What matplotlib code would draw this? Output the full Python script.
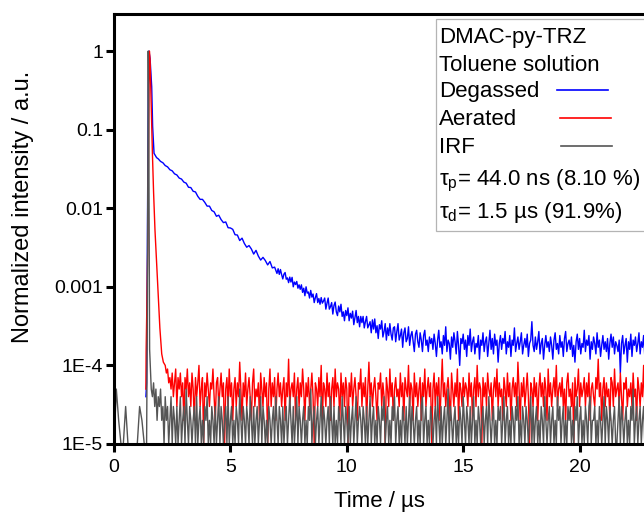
import numpy as np
import matplotlib
matplotlib.use('Agg')
import matplotlib.pyplot as plt
from matplotlib.patches import Rectangle
from matplotlib.ticker import FixedLocator, FixedFormatter, NullLocator

plt.rcParams['font.family'] = ['Liberation Sans', 'DejaVu Sans']
plt.rcParams['mathtext.default'] = 'regular'

# ---------------- data (normalized intensity, in units of 1e-5) ----------------
UNIT = 1e-5

# IRF (grey)
irf_pre_start, irf_pre_step = 0.0, 0.1
irf_pre = [1, 5, 2, 1, 1, 3, 1, 1, 1, 1, 1, 3, 2, 1, 1]
irf_peak_t = [1.43, 1.45, 1.47, 1.49, 1.51, 1.53]
irf_peak = [30, 3000, 100000, 20000, 500, 16]
irf_tail_start, irf_tail_step = 1.6, 0.05
irf_tail = [5,4,6,3,5,2,4,3,5,2,3,1,4,2,3,1,2,4,1,3,
            2,1,3,1,2,4,1,2,3,1,5,2,1,3,2,1,2,3,1,4,
            1,2,3,1,2,1,3,2,4,1,2,1,3,2,1,3,1,2,4,1,
            3,2,1,2,3,1,4,1,2,3,1,2,1,3,2,1,5,2,1,3,
            2,1,3,2,1,4,2,1,3,1,2,3,1,2,4,1,3,2,1,2,
            1,3,2,1,2,3,1,4,2,1,3,2,1,3,1,2,3,1,2,4,
            2,1,3,1,2,4,1,3,2,1,2,3,1,2,1,3,2,5,1,2,
            3,1,2,3,1,2,4,1,3,2,1,2,3,1,4,2,1,3,1,2,
            1,3,2,1,4,2,1,3,2,1,3,1,2,3,1,2,4,1,2,3,
            2,1,3,2,1,3,1,2,4,1,2,3,1,2,1,3,2,1,3,2,
            4,1,2,3,1,2,1,3,2,4,1,2,3,1,2,1,3,2,1,3,
            1,2,4,1,3,2,1,2,3,1,2,1,3,4,1,2,3,1,2,1,
            3,2,1,2,3,1,4,2,1,3,1,2,3,1,2,5,1,3,2,1,
            2,3,1,2,1,3,2,1,4,2,1,3,2,1,3,1,2,4,1,2,
            1,3,2,1,2,3,1,2,3,1,4,2,1,2,3,1,2,1,3,2,
            3,1,2,4,1,2,3,1,2,1,3,2,1,3,2,4,1,2,1,3,
            2,1,3,2,1,2,4,1,3,1,2,3,1,2,1,3,2,1,4,2,
            1,2,3,1,2,3,1,2,1,4,2,3,1,2,3,1,2,1,3,2,
            3,1,2,1,3,2,4,1,2,3,1,2,1,3,2,1,3,4,1,2,
            2,3,1,2,1,3,2,1,2,4,1,3,2,1,3,2,1,2,3,1,
            1,2,4,1,3,2,1,2,3,1,2,1,3,2,5,1,2,3,1,2,
            3,1,2,3,1,2,1,4,2,1,3,2,1,2,3,1,2,1,3,2,
            2,1,3,2,1,4,1,2,3,1,2,3,1,2,1,3,2,4,1,3,
            1,3,2,1,2,3,1,2,1,3,4,1,2,3,1,2,1,3,2,1]

# Aerated (red)
aer_early_t = [1.37, 1.38, 1.45, 1.52, 1.55, 1.60, 1.65, 1.70, 1.76, 1.83, 1.90, 1.97, 2.05, 2.12]
aer_early = [5, 15, 300, 100000, 77000, 20000, 5000, 1600, 530, 200, 74, 30, 14, 11]
aer_tail_start, aer_tail_step = 2.2, 0.05
aer_tail = [10,8,9,6,7,5,8,4,6,9,3,7,5,8,4,6,2,7,5,9,
            4,6,3,8,5,2,7,4,6,10,3,5,7,1,6,4,8,5,3,6,
            5,9,4,2,6,7,3,5,8,4,6,1,5,7,3,9,4,6,2,5,
            7,3,6,4,11,5,2,6,4,8,3,5,7,4,2,6,9,3,5,4,
            6,2,8,5,3,7,4,6,1,5,9,3,6,4,7,2,5,8,4,6,
            3,5,7,2,6,4,12,3,5,6,4,8,2,5,7,3,6,4,9,5,
            2,6,4,7,3,5,8,4,1,6,5,3,7,4,10,2,6,5,3,8,
            4,6,2,5,7,3,9,4,6,5,2,8,4,6,3,7,5,1,6,4,
            8,3,5,7,4,2,6,5,9,3,6,4,7,2,5,11,4,6,3,5,
            7,4,2,6,5,8,3,6,4,1,7,5,3,9,4,6,2,5,7,4,
            5,3,8,4,6,2,7,5,4,10,3,6,5,2,8,4,6,3,5,7,
            2,6,4,9,3,5,7,4,6,1,5,8,3,6,4,7,2,5,12,4,
            6,3,5,7,4,2,8,5,3,6,4,9,2,6,5,3,7,4,6,5,
            3,8,4,6,2,5,7,3,10,4,6,5,1,7,4,6,3,8,5,4,
            6,2,5,7,4,9,3,6,4,5,2,7,5,3,8,4,6,2,5,7,
            4,6,3,11,5,2,6,4,7,3,5,8,4,1,6,5,3,7,4,6,
            2,5,8,4,6,3,7,5,2,9,4,6,3,5,7,4,10,3,5,6,
            4,7,3,5,2,6,8,4,5,3,6,1,7,4,5,9,3,6,4,5,
            7,3,6,4,8,2,5,6,4,3,7,5,12,4,6,2,5,7,3,6,
            4,5,2,7,6,3,9,4,5,6,3,8,4,2,6,5,7,3,5,4,
            6,3,8,4,5,2,7,5,3,6,4,10,3,5,6,4,1,7,5,4,
            3,6,4,7,2,5,8,4,6,3,5,7,4,9,3,6,5,2,6,4,
            5,7,3,6,4,8,2,5,6,4,3,7,5,4,6,3,5,8,4,6]

# Degassed (blue)
deg_early_t = [1.37, 1.40, 1.44, 1.47, 1.50, 1.55, 1.62, 1.66, 1.72, 1.83]
deg_early = [4, 6, 800, 30000, 100000, 80000, 35000, 11000, 5000, 4400]
deg_mid_start, deg_mid_step = 1.9, 0.1
deg_mid = [4250, 3940, 3790, 3490, 3360, 3090, 2990, 2740, 2650, 2420, 2350, 2150,
           2083, 1848, 1831, 1643, 1611, 1416, 1295, 1297, 1187, 1063,
           1064, 936, 900, 790, 815, 717, 656, 669, 565, 561,
           539, 460, 456, 388, 416, 356, 319, 335, 303, 261,
           291, 246, 219, 237, 216, 190, 210, 174, 178, 148]
deg_tail_start, deg_tail_step = 7.05, 0.05
deg_tail = [170,144,166,143,126,145,152,125,130,113,133,115,132,100,115,107,117,96,106,93,
            106,85,96,77,100,83,86,72,90,74,81,63,73,82,63,71,60,73,62,66,
            72,52,62,72,52,56,63,45,58,64,48,43,57,48,60,42,48,37,50,43,
            54,37,46,40,49,33,41,50,35,42,31,42,35,42,30,36,42,30,33,36,
            26,38,29,39,26,32,22,33,29,37,23,27,34,21,30,24,34,25,21,30,
            31,20,27,34,21,24,29,17,26,30,20,22,31,18,24,27,20,15,25,28,
            20,17,26,21,15,24,28,18,21,15,23,19,
            22,16,25,19,13,21,28,17,20,14,24,18,31,15,21,19,12,23,17,26,
            20,14,27,18,10,22,19,25,16,21,13,24,18,29,15,20,23,14,19,17,
            24,12,21,18,26,15,20,23,13,19,28,16,22,14,25,18,21,11,19,24,
            16,22,19,27,14,20,17,24,13,21,18,30,15,19,23,16,20,26,14,18,
            22,17,25,13,19,21,36,18,15,23,16,20,27,14,19,22,12,18,24,17,
            20,15,23,18,12,21,26,16,19,14,24,17,20,13,22,27,15,19,21,16,
            23,13,18,11,20,25,16,22,14,19,17,28,15,21,18,24,12,20,16,23,
            19,14,26,17,21,13,18,24,16,20,15,22,12,19,25,17,23,14,20,18,
            15,21,8,19,24,14,18,22,11,20,16,25,13,21,18,23,15,19,26,14,
            20,17,24,13,19,22,16,21,14,25,18,20,12,23,17,19,15,22,18,24,
            16,21,13,19,23,15,20,17,25,14,18,22,16,20,13,24,17,19,21,15,
            19,23,14,20,17,22,16,18]

y_ticks = [1e-5, 1e-4, 1e-3, 1e-2, 1e-1, 1]
y_ticklabels = ['1E-5', '1E-4', '0.001', '0.01', '0.1', '1']
x_ticks = [0, 5, 10, 15, 20]
x_ticklabels = ['0', '5', '10', '15', '20']

legend_lines = ['DMAC-py-TRZ', 'Toluene solution', 'Degassed', 'Aerated', 'IRF',
                'τ$_p$= 44.0 ns (8.10 %)', 'τ$_d$= 1.5 µs (91.9%)']


def seg_times(start, step, vals):
    return start + step * np.arange(len(vals))


def series(parts):
    t = np.concatenate([np.asarray(p[0], float) for p in parts])
    v = np.concatenate([np.asarray(p[1], float) for p in parts]) * UNIT
    return t, v


t_irf, v_irf = series([(seg_times(irf_pre_start, irf_pre_step, irf_pre), irf_pre),
                       (irf_peak_t, irf_peak),
                       (seg_times(irf_tail_start, irf_tail_step, irf_tail), irf_tail)])
t_aer, v_aer = series([(aer_early_t, aer_early),
                       (seg_times(aer_tail_start, aer_tail_step, aer_tail), aer_tail)])
t_deg, v_deg = series([(deg_early_t, deg_early),
                       (seg_times(deg_mid_start, deg_mid_step, deg_mid), deg_mid),
                       (seg_times(deg_tail_start, deg_tail_step, deg_tail), deg_tail)])

# ---------------- figure ----------------
W, H = 644, 513
fig = plt.figure(figsize=(W / 100, H / 100), dpi=100)
ax_l, ax_r, ax_t, ax_b = 114, 646, 14, 444
ax = fig.add_axes([ax_l / W, 1 - ax_b / H, (ax_r - ax_l) / W, (ax_b - ax_t) / H])

ax.plot(t_deg, v_deg, color='#0000ff', lw=1.0)
ax.plot(t_aer, v_aer, color='#ff0000', lw=1.0)
ax.plot(t_irf, v_irf, color='#555555', lw=1.0)

ax.set_yscale('log')
ax.set_ylim(1e-5, 2.96)
ax.set_xlim(0, (ax_r - ax_l) / 23.28)

ax.yaxis.set_major_locator(FixedLocator(y_ticks))
ax.yaxis.set_major_formatter(FixedFormatter(y_ticklabels))
ax.yaxis.set_minor_locator(NullLocator())
ax.xaxis.set_major_locator(FixedLocator(x_ticks))
ax.xaxis.set_major_formatter(FixedFormatter(x_ticklabels))
ax.xaxis.set_minor_locator(NullLocator())

for s in ax.spines.values():
    s.set_linewidth(2.2)
ax.tick_params(axis='both', which='major', direction='out', length=6, width=2.2,
               labelsize=14)
ax.tick_params(axis='x', pad=5)
ax.tick_params(axis='y', pad=2)

fig.text(379 / W, 1 - 506.7 / H, 'Time / µs', ha='center', va='baseline', fontsize=16)
fig.text(23 / W, 1 - 207 / H, 'Normalized intensity / a.u.', ha='center', va='center',
         rotation=90, fontsize=17)


# legend box (text rows with sample lines to the right)
def fx(px):
    return (px - ax_l) / (ax_r - ax_l)


def fy(py):
    return (ax_b - py) / (ax_b - ax_t)


ax.add_patch(Rectangle((fx(435.7), fy(230.7)), 0.6, fy(19.3) - fy(230.7),
                       transform=ax.transAxes, facecolor='white', edgecolor='#b4b4b4',
                       lw=0.9, clip_on=False, zorder=5))
baselines = [43.3, 70.7, 97.3, 125, 152.7, 185, 218]
for txt, b in zip(legend_lines, baselines):
    ax.text(fx(439), fy(b), txt, transform=ax.transAxes, ha='left', va='baseline',
            fontsize=16, zorder=6)
for (x0, x1, yy, c) in [(557, 608, 90, '#0000ff'), (560, 611, 117.7, '#ff0000'),
                        (561, 612, 145.7, '#555555')]:
    ax.plot([fx(x0), fx(x1)], [fy(yy), fy(yy)], color=c, lw=1.2,
            transform=ax.transAxes, clip_on=False, zorder=6)

fig.savefig('out.png', dpi=100)
